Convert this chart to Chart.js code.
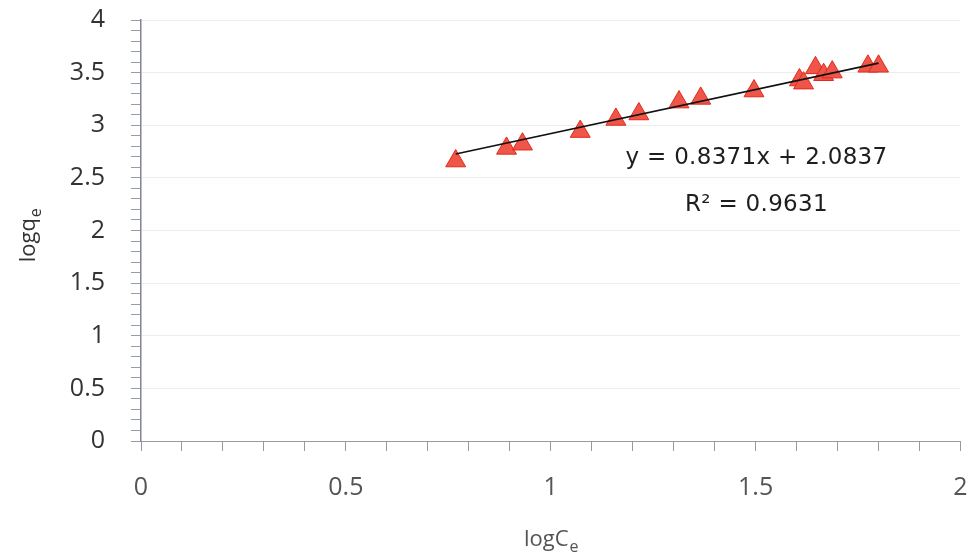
<!DOCTYPE html>
<html>
<head>
<meta charset="utf-8">
<title>logqe vs logCe</title>
<script src="https://cdn.jsdelivr.net/npm/chart.js@4.4.1/dist/chart.umd.min.js"></script>
<style>
    html, body { margin: 0; padding: 0; background: #fff; }
    #wrap { width: 973px; height: 559px; position: relative; }
</style>
</head>
<body>
<div id="wrap"><canvas id="isoChart"></canvas></div>
<script>
// datos
var logCe = [0.768, 0.892, 0.931, 1.072, 1.159, 1.215, 1.313, 1.366, 1.496, 1.607, 1.617, 1.646, 1.666, 1.687, 1.774, 1.800];
var logQe = [2.66, 2.78, 2.82, 2.94, 3.055, 3.107, 3.22, 3.255, 3.325, 3.43, 3.40, 3.545, 3.48, 3.505, 3.56, 3.56];
var slope = 0.8371;
var intercept = 2.0837;
var eqText = 'y = 0.8371x + 2.0837';
var r2Text = 'R\u00b2 = 0.9631';
var xTickLabels = ['0', '0.5', '1', '1.5', '2'];
var yTickLabels = ['0', '0.5', '1', '1.5', '2', '2.5', '3', '3.5', '4'];

var points = [];
for (var i = 0; i < logCe.length; i++) {
    points.push({ x: logCe[i], y: logQe[i] });
}
var xMin = Math.min.apply(null, logCe);
var xMax = Math.max.apply(null, logCe);
var trend = [
    { x: xMin, y: slope * xMin + intercept },
    { x: xMax, y: slope * xMax + intercept }
];

function isMajor(v) {
    return Math.abs(v * 2 - Math.round(v * 2)) < 1e-6;
}
function labelFor(list, v) {
    if (!isMajor(v)) return '';
    return list[Math.round(v * 2)];
}

// texto con subindice (logq_e, logC_e)
function subText(c, base, sub, x, y) {
    c.font = '22px "Open Sans", sans-serif';
    var w1 = c.measureText(base).width;
    c.font = '16px "Open Sans", sans-serif';
    var w2 = c.measureText(sub).width;
    var start = x - (w1 + w2) / 2;
    c.textAlign = 'left';
    c.textBaseline = 'alphabetic';
    c.font = '22px "Open Sans", sans-serif';
    c.fillText(base, start, y);
    c.font = '16px "Open Sans", sans-serif';
    c.fillText(sub, start + w1 + 1, y + 6);
}

var eqPlugin = {
    id: 'eqPlugin',
    afterDatasetsDraw: function(chart) {
        var c = chart.ctx;
        var xs = chart.scales.x, ys = chart.scales.y;
        c.save();
        c.fillStyle = '#1e1e1e';
        c.font = '23px "DejaVu Sans", sans-serif';
        c.letterSpacing = '0.3px';
        c.textAlign = 'center';
        c.textBaseline = 'middle';
        c.fillText(eqText, xs.getPixelForValue(1.502), ys.getPixelForValue(2.69));
        c.fillText(r2Text, xs.getPixelForValue(1.502), ys.getPixelForValue(2.24));
        c.restore();
    },
    afterDraw: function(chart) {
        var c = chart.ctx;
        var xs = chart.scales.x, ys = chart.scales.y;
        c.save();
        // titulo eje x
        c.fillStyle = '#555';
        subText(c, 'logC', 'e', xs.getPixelForValue(1.0), 546);
        // titulo eje y
        c.translate(35, ys.getPixelForValue(1.95));
        c.rotate(-Math.PI / 2);
        c.fillStyle = '#333';
        subText(c, 'logq', 'e', 0, 0);
        c.restore();
    }
};

var ctx = document.getElementById('isoChart').getContext('2d');
var isoChart = new Chart(ctx, {
    type: 'scatter',
    data: {
        datasets: [
            {
                label: 'data',
                data: points,
                pointStyle: 'triangle',
                pointRadius: 11.5,
                pointHoverRadius: 11.5,
                backgroundColor: '#ef5548',
                borderColor: '#e02a1a',
                borderWidth: 1
            },
            {
                label: 'trend',
                type: 'line',
                data: trend,
                borderColor: '#111',
                borderWidth: 1.6,
                pointRadius: 0,
                fill: false,
                order: -1
            }
        ]
    },
    plugins: [eqPlugin],
    options: {
        responsive: true,
        maintainAspectRatio: false,
        animation: false,
        layout: { padding: { top: 20, right: 12, left: 0, bottom: 0 } },
        plugins: {
            legend: { display: false },
            tooltip: { enabled: false }
        },
        scales: {
            x: {
                type: 'linear',
                min: 0,
                max: 2,
                afterFit: function(s) {
                    s.height = 118;
                    s.paddingRight = 0;
                    s.paddingLeft = 0;
                },
                ticks: {
                    stepSize: 0.1,
                    autoSkip: false,
                    maxRotation: 0,
                    padding: 22,
                    color: '#555',
                    font: { family: 'Open Sans', size: 25 },
                    callback: function(v) { return labelFor(xTickLabels, v); }
                },
                grid: {
                    drawOnChartArea: false,
                    tickLength: 10,
                    tickColor: '#9a9a9a'
                },
                border: { color: '#9a9a9a', width: 1 }
            },
            y: {
                type: 'linear',
                min: 0,
                max: 4,
                afterFit: function(s) {
                    s.width = 141;
                    s.paddingTop = 0;
                    s.paddingBottom = 0;
                },
                ticks: {
                    stepSize: 0.1,
                    autoSkip: false,
                    padding: 26,
                    color: '#333',
                    font: { family: 'Open Sans', size: 25 },
                    callback: function(v) { return labelFor(yTickLabels, v); }
                },
                grid: {
                    tickLength: 10,
                    tickColor: '#9a9aa8',
                    color: function(c) {
                        return (c.tick && isMajor(c.tick.value) && c.tick.value > 0) ? '#ececec' : 'rgba(0,0,0,0)';
                    }
                },
                border: { color: '#7f8496', width: 1.5 }
            }
        }
    }
});
</script>
</body>
</html>
